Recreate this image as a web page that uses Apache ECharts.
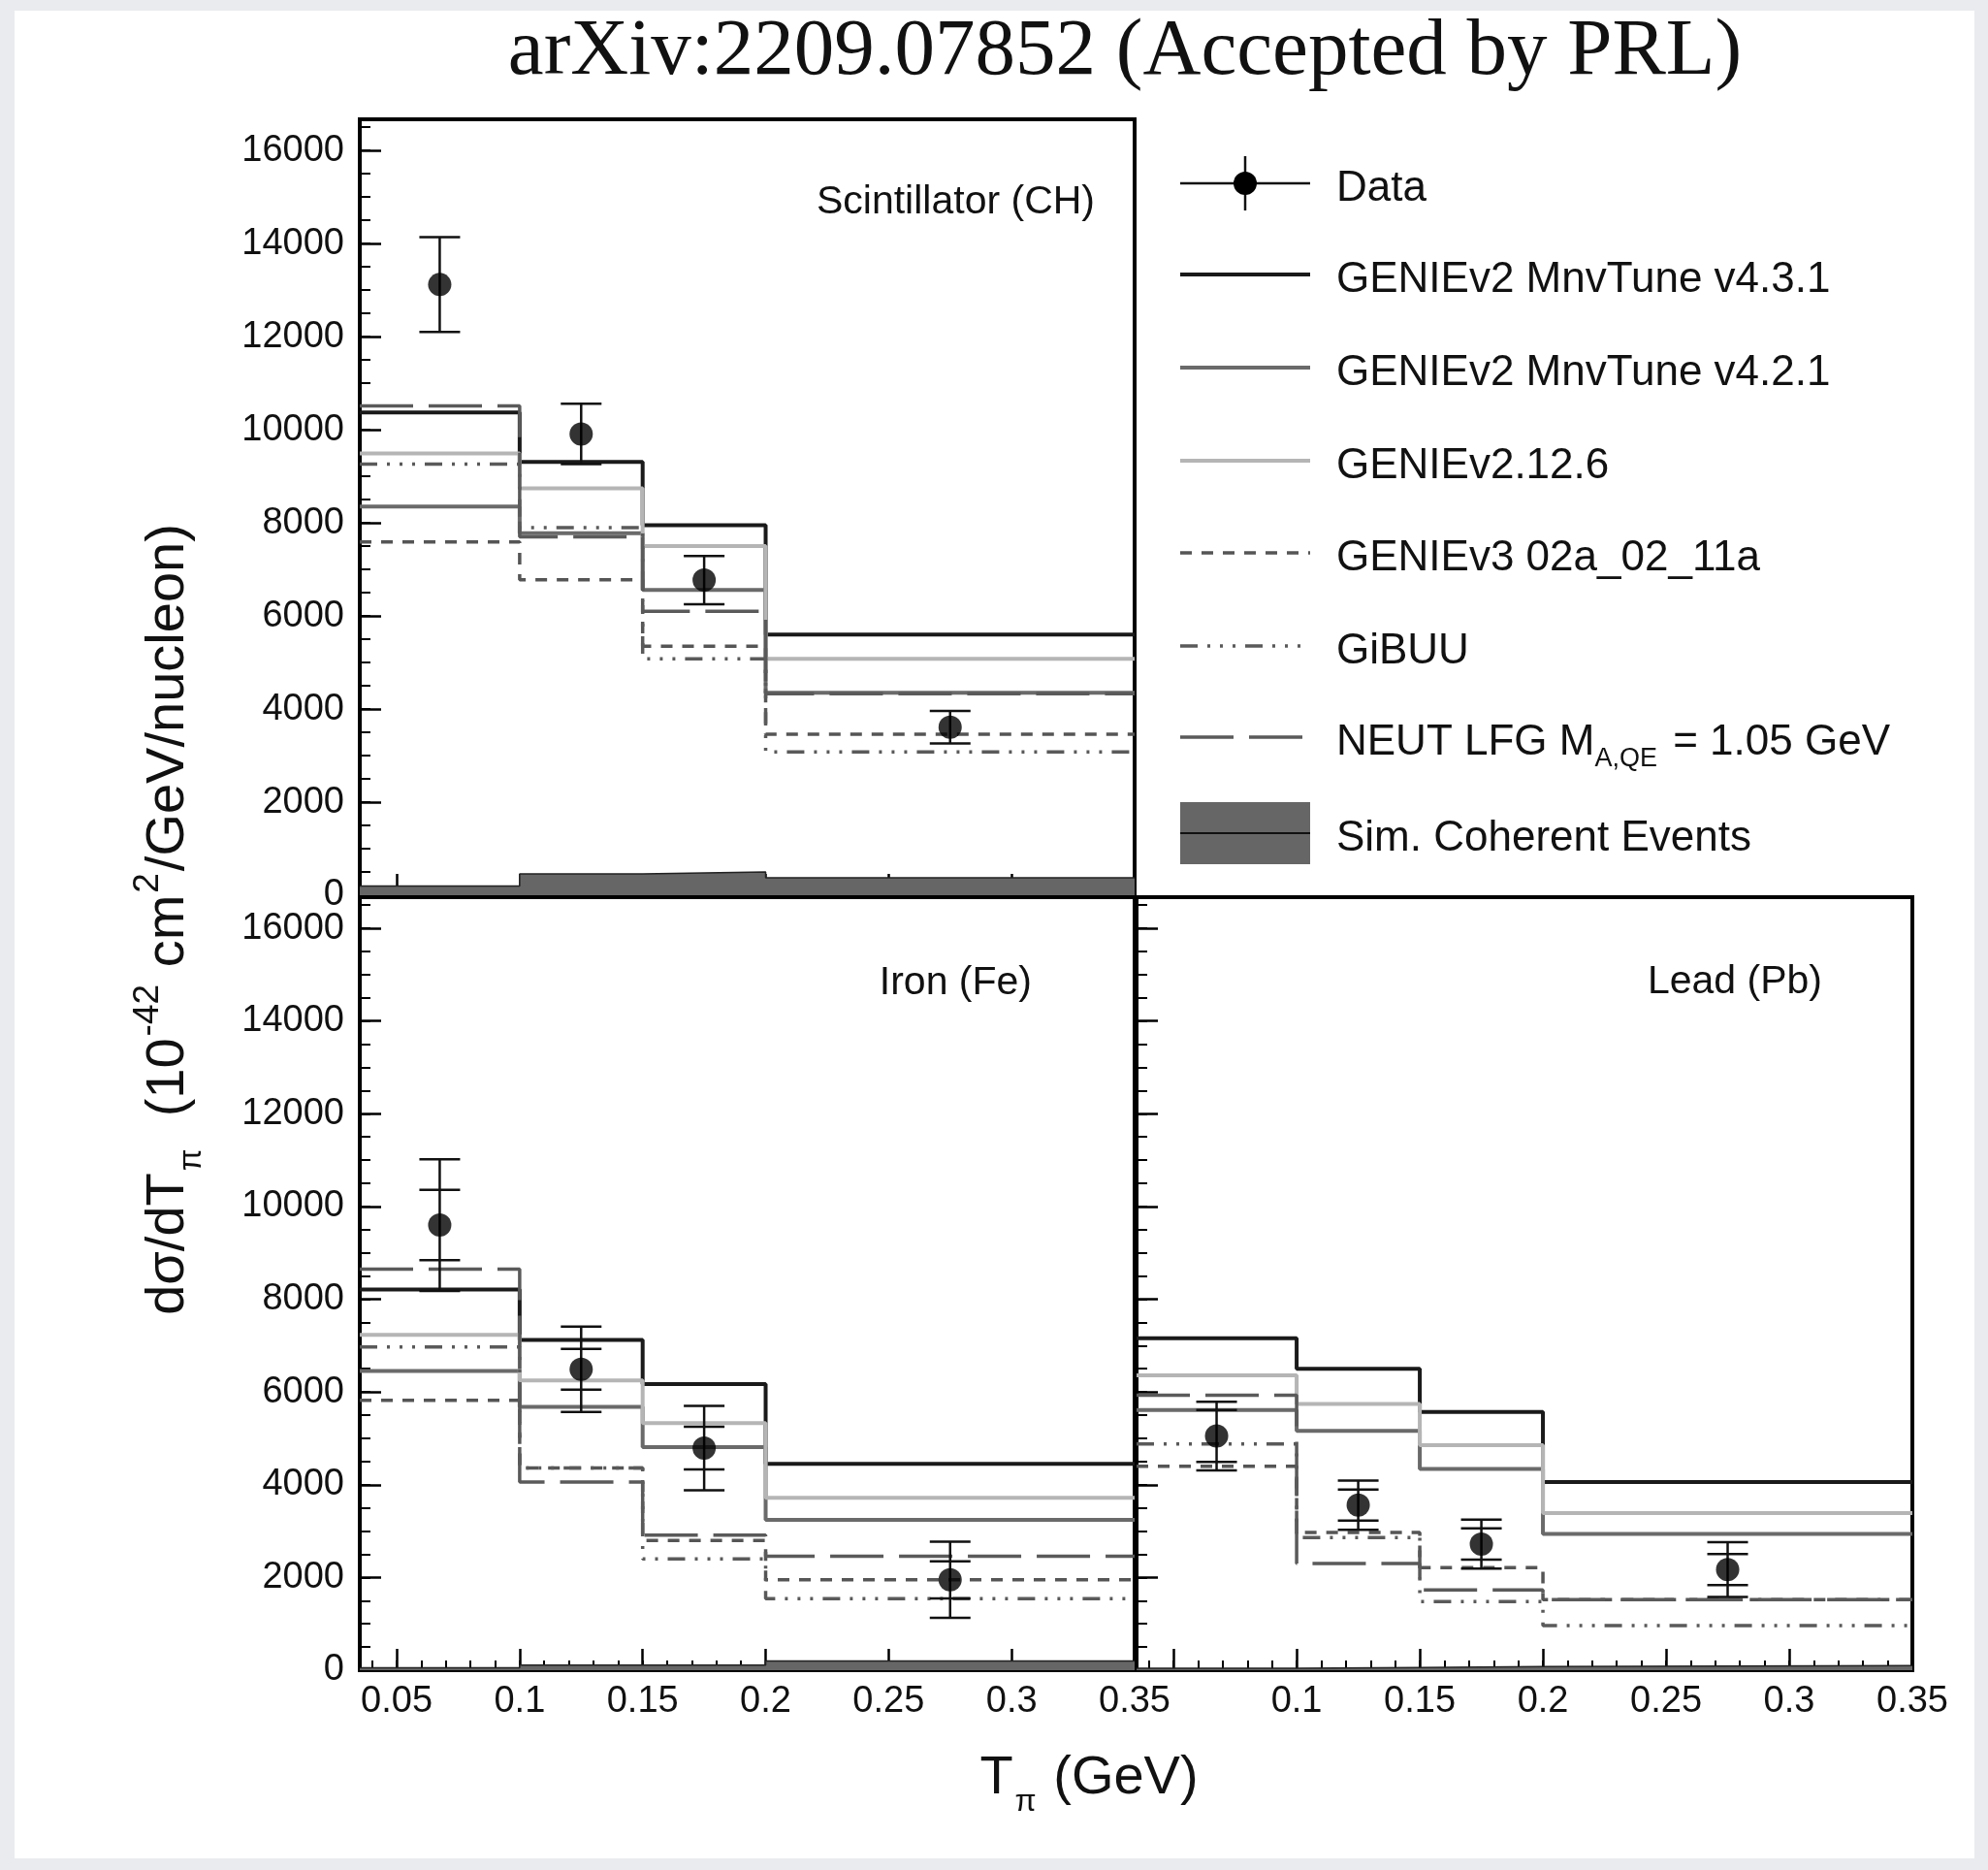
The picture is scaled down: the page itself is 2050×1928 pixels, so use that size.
<!DOCTYPE html>
<html><head><meta charset="utf-8">
<script src="https://cdn.jsdelivr.net/npm/echarts@6/dist/echarts.min.js"></script>
<style>html,body{margin:0;padding:0;background:#e9ebee;}#c{width:2050px;height:1928px;}</style>
</head><body><div id="c"></div>
<script>
// ---------- DATA ----------
const binEdges = [0.035, 0.1, 0.15, 0.2, 0.35];
const binCenters = [0.0675, 0.125, 0.175, 0.275];
const xMajorTicks = [0.05, 0.1, 0.15, 0.2, 0.25, 0.3, 0.35];
const xMinorTicks = [0.04,0.05,0.06,0.07,0.08,0.09,0.1,0.11,0.12,0.13,0.14,0.15,0.16,0.17,0.18,0.19,0.2,0.21,0.22,0.23,0.24,0.25,0.26,0.27,0.28,0.29,0.3,0.31,0.32,0.33,0.34];
const yMajorTicks = [0, 2000, 4000, 6000, 8000, 10000, 12000, 14000, 16000];
const yMinorTicks = [500,1000,1500,2000,2500,3000,3500,4000,4500,5000,5500,6000,6500,7000,7500,8000,8500,9000,9500,10000,10500,11000,11500,12000,12500,13000,13500,14000,14500,15000,15500,16000,16500];

const legendNames = ["Data", "GENIEv2 MnvTune v4.3.1", "GENIEv2 MnvTune v4.2.1", "GENIEv2.12.6", "GENIEv3 02a_02_11a", "GiBUU", "NEUT LFG M", "Sim. Coherent Events"];
const panelLabels = ["Scintillator (CH)", "Iron (Fe)", "Lead (Pb)"];

// Scintillator (CH)
const chData = [13120, 9910, 6770, 3610];
const chErrStat = [0, 0, 0, 0];
const chErrTot = [1020, 650, 520, 350];
const chV431 = [10370, 9310, 7950, 5600];
const chV421 = [8350, 7780, 6560, 4350];
const chV2126 = [9490, 8740, 7500, 5080];
const chG3 = [7590, 6780, 5350, 3460];
const chGiBUU = [9260, 7900, 5080, 3080];
const chNEUT = [10510, 7700, 6100, 4330];
const chCoh = [200, 460, 500, 375];

// Iron (Fe)
const feData = [9600, 6490, 4790, 1950];
const feErrStat = [760, 440, 460, 400];
const feErrTot = [1420, 920, 910, 820];
const feV431 = [8210, 7120, 6170, 4450];
const feV421 = [6450, 5680, 4810, 3240];
const feV2126 = [7230, 6250, 5330, 3720];
const feG3 = [5820, 4360, 2800, 1950];
const feGiBUU = [6970, 4360, 2400, 1540];
const feNEUT = [8650, 4060, 2910, 2460];
const feCoh = [50, 110, 110, 200];

// Lead (Pb)
const pbData = [5050, 3560, 2720, 2170];
const pbErrStat = [560, 335, 337, 336];
const pbErrTot = [740, 530, 528, 590];
const pbV431 = [7160, 6500, 5570, 4060];
const pbV421 = [5610, 5160, 4340, 2940];
const pbV2126 = [6360, 5740, 4850, 3390];
const pbG3 = [4400, 2970, 2210, 1520];
const pbGiBUU = [4880, 2860, 1480, 960];
const pbNEUT = [5930, 2300, 1730, 1520];
const pbCoh = [40, 60, 80, 100];

// ---------- STYLE ----------
const FONT = "'Liberation Sans', Arial, Helvetica, sans-serif";
const models = [
  {key:'v431', color:'#1a1a1a', width:4, type:'solid'},
  {key:'v421', color:'#6a6a6a', width:4, type:'solid'},
  {key:'v2126', color:'#b5b5b5', width:4, type:'solid'},
  {key:'g3', color:'#555555', width:3.5, type:[12,10]},
  {key:'gibuu', color:'#5a5a5a', width:3.5, type:[18,10,3,10,3,10,3,10]},
  {key:'neut', color:'#5a5a5a', width:3.5, type:[55,16]}
];
const panels = [
  {data:chData, stat:chErrStat, tot:chErrTot, v431:chV431, v421:chV421, v2126:chV2126, g3:chG3, gibuu:chGiBUU, neut:chNEUT, coh:chCoh,
   grid:{left:371, top:123, width:799, height:800}, xLabels:false, yLabels:true, xLabelVals:xMajorTicks},
  {data:feData, stat:feErrStat, tot:feErrTot, v431:feV431, v421:feV421, v2126:feV2126, g3:feG3, gibuu:feGiBUU, neut:feNEUT, coh:feCoh,
   grid:{left:371, top:925, width:799, height:797}, xLabels:true, yLabels:true, xLabelVals:xMajorTicks},
  {data:pbData, stat:pbErrStat, tot:pbErrTot, v431:pbV431, v421:pbV421, v2126:pbV2126, g3:pbG3, gibuu:pbGiBUU, neut:pbNEUT, coh:pbCoh,
   grid:{left:1172, top:925, width:800, height:797}, xLabels:true, yLabels:false, xLabelVals:xMajorTicks.slice(1)}
];

function stepData(vals){ return binEdges.map((e,i)=>[e, vals[Math.min(i, vals.length-1)]]); }

const grids=[], xAxes=[], yAxes=[], series=[];
panels.forEach((p, gi)=>{
  grids.push(Object.assign({show:true, borderColor:'#000', borderWidth:4, backgroundColor:'#fff', containLabel:false}, p.grid));
  xAxes.push({type:'value', gridIndex:gi, min:0.035, max:0.35, position:'bottom',
    axisLine:{show:true, onZero:false, lineStyle:{color:'#000', width:4}},
    axisTick:{show:true, inside:true, length:22, customValues:xMajorTicks, lineStyle:{color:'#000', width:2.5}},
    axisLabel:{show:p.xLabels, customValues:p.xLabelVals, color:'#111', fontSize:38, fontFamily:FONT, margin:14,
      formatter:v=>String(+(+v).toFixed(2))},
    splitLine:{show:false}});
  xAxes.push({type:'value', gridIndex:gi, min:0.035, max:0.35, position:'bottom', offset:0,
    axisLine:{show:false}, axisTick:{show:true, inside:true, length:10, customValues:xMinorTicks, lineStyle:{color:'#000', width:2}},
    axisLabel:{show:false}, splitLine:{show:false}});
  yAxes.push({type:'value', gridIndex:gi, min:0, max:16670, position:'left',
    axisLine:{show:true, onZero:false, lineStyle:{color:'#000', width:4}},
    axisTick:{show:true, inside:true, length:22, customValues:yMajorTicks, lineStyle:{color:'#000', width:2.5}},
    axisLabel:{show:p.yLabels, customValues:yMajorTicks, color:'#111', fontSize:38, fontFamily:FONT, margin:16,
      formatter:v=>String(Math.round(+v))},
    splitLine:{show:false}});
  yAxes.push({type:'value', gridIndex:gi, min:0, max:16670, position:'left', offset:0,
    axisLine:{show:false}, axisTick:{show:true, inside:true, length:11, customValues:yMinorTicks, lineStyle:{color:'#000', width:2}},
    axisLabel:{show:false}, splitLine:{show:false}});
  const xi = gi*2, yi = gi*2;
  // coherent fill
  series.push({type:'line', name:'coh'+gi, xAxisIndex:xi, yAxisIndex:yi, step:'end', symbol:'none', data:stepData(p.coh),
    lineStyle:{color:'#222', width:1.5}, areaStyle:{color:'#666', opacity:1}, z:2, silent:true});
  models.forEach(m=>{
    series.push({type:'line', name:m.key+gi, xAxisIndex:xi, yAxisIndex:yi, step:'end', symbol:'none', data:stepData(p[m.key]),
      lineStyle:{color:m.color, width:m.width, type:m.type, cap:'butt'}, z:3, silent:true});
  });
  // error bars
  const errData = binCenters.map((x,i)=>[x, p.data[i], p.stat[i], p.tot[i]]);
  series.push({type:'custom', name:'err'+gi, xAxisIndex:xi, yAxisIndex:yi, data:errData, z:5, silent:true,
    renderItem:(params, api)=>{
      const x=api.value(0), y=api.value(1), s=api.value(2), t=api.value(3);
      const top=api.coord([x,y+t]), bot=api.coord([x,y-t]);
      const children=[
        {type:'line', shape:{x1:top[0], y1:top[1], x2:bot[0], y2:bot[1]}, style:{stroke:'#111', lineWidth:2.5}},
        {type:'line', shape:{x1:top[0]-21, y1:top[1], x2:top[0]+21, y2:top[1]}, style:{stroke:'#111', lineWidth:2.5}},
        {type:'line', shape:{x1:bot[0]-21, y1:bot[1], x2:bot[0]+21, y2:bot[1]}, style:{stroke:'#111', lineWidth:2.5}}
      ];
      if (s>0){
        const st=api.coord([x,y+s]), sb=api.coord([x,y-s]);
        children.push({type:'line', shape:{x1:st[0]-21, y1:st[1], x2:st[0]+21, y2:st[1]}, style:{stroke:'#111', lineWidth:2.5}});
        children.push({type:'line', shape:{x1:sb[0]-21, y1:sb[1], x2:sb[0]+21, y2:sb[1]}, style:{stroke:'#111', lineWidth:2.5}});
      }
      return {type:'group', children};
    }});
  series.push({type:'scatter', name:'data'+gi, xAxisIndex:xi, yAxisIndex:yi, data:binCenters.map((x,i)=>[x,p.data[i]]),
    symbol:'circle', symbolSize:24, itemStyle:{color:'#000'}, z:6, silent:true});
});

// ---------- LEGEND (graphic) ----------
const legY = [189, 283, 379, 475, 570, 666, 760, 859];
const lx1 = 1217, lx2 = 1351, ltx = 1378, ldy = 6;
const gfx = [];
gfx.push({type:'rect', shape:{x:15, y:11, width:2021, height:1905}, style:{fill:'#fff'}, z:-10, silent:true});
// data icon
gfx.push({type:'line', shape:{x1:lx1, y1:legY[0], x2:lx2, y2:legY[0]}, style:{stroke:'#111', lineWidth:2.5}});
gfx.push({type:'line', shape:{x1:(lx1+lx2)/2, y1:legY[0]-28, x2:(lx1+lx2)/2, y2:legY[0]+28}, style:{stroke:'#111', lineWidth:2.5}});
gfx.push({type:'circle', shape:{cx:(lx1+lx2)/2, cy:legY[0], r:12}, style:{fill:'#000'}});
models.forEach((m,i)=>{
  gfx.push({type:'line', shape:{x1:lx1, y1:legY[i+1], x2:lx2, y2:legY[i+1]},
    style:{stroke:m.color, lineWidth:m.width, lineDash: m.type==='solid'?null:m.type}});
});
gfx.push({type:'rect', shape:{x:lx1, y:legY[7]-32, width:lx2-lx1, height:64}, style:{fill:'#666'}});
gfx.push({type:'line', shape:{x1:lx1, y1:legY[7], x2:lx2, y2:legY[7]}, style:{stroke:'#111', lineWidth:2}});
legendNames.forEach((n,i)=>{
  if (i===6){
    gfx.push({type:'text', x:ltx, y:legY[i]+ldy, style:{
      text:'{a|NEUT LFG M}{s|A,QE}{a| = 1.05 GeV}', verticalAlign:'middle', fill:'#111',
      rich:{a:{fontSize:44, fontFamily:FONT, fill:'#111', lineHeight:60, verticalAlign:'middle'},
            s:{fontSize:27, fontFamily:FONT, fill:'#111', lineHeight:60, verticalAlign:'bottom', padding:[22,4,0,0]}}}});
  } else {
    gfx.push({type:'text', x:ltx, y:legY[i]+ldy, style:{text:n, fontSize:44, fontFamily:FONT, fill:'#111', verticalAlign:'middle'}});
  }
});
// panel labels
gfx.push({type:'text', x:1129, y:209, style:{text:panelLabels[0], fontSize:41, fontFamily:FONT, fill:'#111', align:'right', verticalAlign:'middle'}, z:10});
gfx.push({type:'text', x:1064, y:1014, style:{text:panelLabels[1], fontSize:41, fontFamily:FONT, fill:'#111', align:'right', verticalAlign:'middle'}, z:10});
gfx.push({type:'text', x:1879, y:1013, style:{text:panelLabels[2], fontSize:41, fontFamily:FONT, fill:'#111', align:'right', verticalAlign:'middle'}, z:10});
// title
gfx.push({type:'text', x:1160, y:54, style:{text:'arXiv:2209.07852 (Accepted by PRL)', fontSize:83,
  fontFamily:"'Liberation Serif', 'Times New Roman', serif", fill:'#111', align:'center', verticalAlign:'middle'}});
// x axis title
gfx.push({type:'text', x:1123, y:1834, style:{
  text:'{a|T}{s|π}{a| (GeV)}', align:'center', verticalAlign:'middle',
  rich:{a:{fontSize:56, fontFamily:FONT, fill:'#111', lineHeight:80, verticalAlign:'middle'},
        s:{fontSize:32, fontFamily:FONT, fill:'#111', lineHeight:80, verticalAlign:'bottom', padding:[30,2,0,2]}}}});
// y axis title
gfx.push({type:'text', x:174, y:948, rotation:Math.PI/2, style:{
  text:'{a|dσ/dT}{s|π}{a|  (10}{p|-42}{a| cm}{p|2}{a|/GeV/nucleon)}', align:'center', verticalAlign:'middle',
  rich:{a:{fontSize:56, fontFamily:FONT, fill:'#111', lineHeight:80, verticalAlign:'middle'},
        s:{fontSize:33, fontFamily:FONT, fill:'#111', lineHeight:80, verticalAlign:'bottom', padding:[30,2,0,2]},
        p:{fontSize:37, fontFamily:FONT, fill:'#111', lineHeight:80, verticalAlign:'top', padding:[0,2,24,2]}}}});

const chart = echarts.init(document.getElementById('c'), null, {renderer:'canvas', width:2050, height:1928});
chart.setOption({
  backgroundColor:'#e9ebee', animation:false,
  grid:grids, xAxis:xAxes, yAxis:yAxes, series:series, graphic:gfx
});
</script></body></html>
